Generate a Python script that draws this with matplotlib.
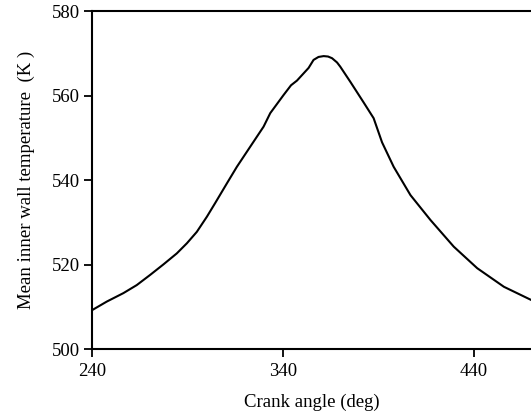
import matplotlib
matplotlib.use("Agg")
import matplotlib.pyplot as plt

# values
crank_angle = [240.0, 247.6, 256.3, 263.3, 270.3, 277.3, 284.3, 289.6, 294.8, 300.1,
               304.4, 310.6, 315.8, 321.1, 329.8, 333.3, 340.3, 344.2, 347.3, 353.4,
               356.0, 358.6, 361.3, 363.6, 365.7, 368.3, 370.0, 375.3, 382.3, 387.5,
               391.9, 398.0, 406.8, 417.3, 429.5, 441.8, 455.8, 470.0]
wall_temp = [509.3, 511.3, 513.3, 515.2, 517.6, 520.1, 522.7, 525.1, 527.8, 531.4,
             534.6, 539.3, 543.2, 546.8, 552.7, 555.9, 560.2, 562.5, 563.6, 566.6,
             568.5, 569.2, 569.4, 569.3, 568.9, 567.9, 566.9, 563.3, 558.4, 554.7,
             549.0, 543.2, 536.5, 530.6, 524.3, 519.2, 514.8, 511.7]
x_ticks = [240, 340, 440]
y_ticks = [500, 520, 540, 560, 580]

plt.rcParams['font.family'] = ['Liberation Serif', 'DejaVu Serif']
plt.rcParams['font.size'] = 13.5

fig = plt.figure(figsize=(5.31, 4.19), dpi=100)
ax = fig.add_axes([0.1738, 0.1663, 1.0 - 0.1738, 0.973 - 0.1663])
ax.plot(crank_angle, wall_temp, color='black', linewidth=1.5)

ax.set_xlim(240, 470)
ax.set_ylim(500, 580)
ax.set_xticks(x_ticks)
ax.set_yticks(y_ticks)
ax.spines['right'].set_visible(False)
for s in ['left', 'bottom', 'top']:
    ax.spines[s].set_linewidth(1.5)
ax.tick_params(direction='out', length=6, width=1.3, pad=3)
ax.tick_params(axis='x', pad=4)

ax.set_xlabel("Crank angle (deg)", labelpad=10)
ax.set_ylabel("Mean inner wall temperature  (K )", labelpad=12)

fig.savefig("out.png", dpi=100)
